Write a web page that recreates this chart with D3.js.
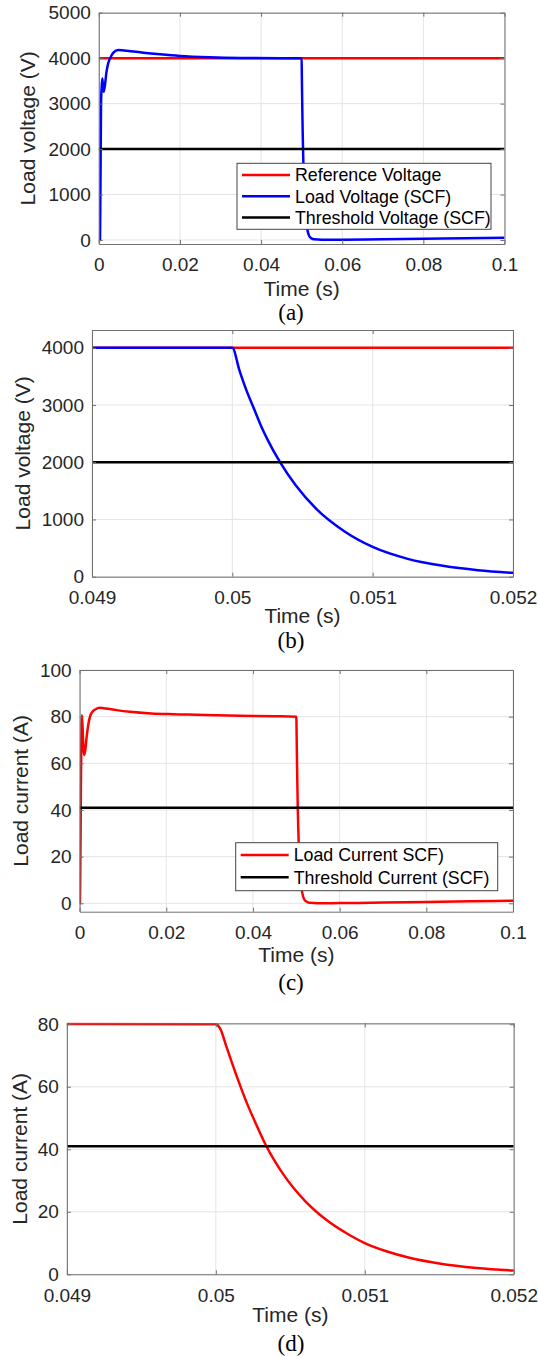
<!DOCTYPE html>
<html>
<head>
<meta charset="utf-8">
<script src="https://cdn.jsdelivr.net/npm/d3@7"></script>
<style>
  body { margin: 0; background: #fff; }
  svg { display: block; }
</style>
</head>
<body>
<svg id="fig" width="538" height="1356"></svg>
<script>
// Load voltage and load current during a short-circuit fault (SCF) at t = 0.05 s

// Load voltage (V) vs time (s)
const voltageTime = [0, 0.0003, 0.00055, 0.0007, 0.00086, 0.001, 0.0012, 0.0015, 0.0019, 0.0023,
  0.0028, 0.0036, 0.0048, 0.0069, 0.011, 0.0151, 0.02, 0.0274, 0.035, 0.045,
  0.05, 0.05005, 0.0501, 0.05015, 0.0502, 0.05025, 0.05034, 0.05045, 0.0506, 0.0508,
  0.051, 0.05125, 0.0515, 0.05175, 0.052, 0.0525, 0.053, 0.055, 0.06, 0.07,
  0.08, 0.09, 0.1];
const loadVoltage = [0, 0, 3000, 3350, 3550, 3420, 3260, 3400, 3700, 3880,
  4000, 4120, 4180, 4164, 4120, 4084, 4048, 4019, 4005, 4000,
  4000, 3610, 3260, 2960, 2660, 2400, 2000, 1600, 1180, 790,
  520, 312, 190, 113, 68, 30, 15, 5, 8, 18,
  28, 38, 48];

// Load current (A) vs time (s)
const currentTime = [0, 0.0001, 0.0003, 0.00055, 0.0008, 0.001, 0.0013, 0.00163, 0.002, 0.0024,
  0.003, 0.0036, 0.0047, 0.006, 0.0085, 0.0116, 0.0165, 0.0204, 0.025, 0.0291,
  0.037, 0.045, 0.05, 0.05003, 0.05007, 0.05014, 0.05021, 0.05028, 0.050337, 0.05045,
  0.0506, 0.05075, 0.0509, 0.051, 0.05115, 0.0513, 0.0515, 0.05175, 0.052, 0.0525,
  0.053, 0.055, 0.06, 0.07, 0.08, 0.09, 0.1];
const loadCurrent = [0, 0, 50, 80.6, 70, 63.6, 65.5, 71.4, 76.5, 80,
  82.2, 83.1, 83.8, 83.5, 82.8, 82.1, 81.4, 81.1, 80.9, 80.7,
  80.4, 80.2, 80, 78.5, 73, 63.4, 54.6, 47.0, 41.2, 32.2,
  23.4, 17.1, 12.5, 10, 7.3, 5.3, 3.45, 2.0, 1.2, 0.6,
  0.2, 0, 0.1, 0.3, 0.6, 0.9, 1.1];

const referenceVoltage = 4000;
const thresholdVoltage = 2000;
const thresholdCurrent = 41;

// Tick values
const fullTimeTicks = [0, 0.02, 0.04, 0.06, 0.08, 0.1];
const zoomTimeTicks = [0.049, 0.05, 0.051, 0.052];
const voltageTicksFull = [0, 1000, 2000, 3000, 4000, 5000];
const voltageTicksZoom = [0, 1000, 2000, 3000, 4000];
const currentTicksFull = [0, 20, 40, 60, 80, 100];
const currentTicksZoom = [0, 20, 40, 60, 80];

const RED = "#ff0000", BLUE = "#0000ff", BLACK = "#000000";
const SANS = "'Liberation Sans', Arial, Helvetica, sans-serif";
const SERIF = "'Liberation Serif', 'Times New Roman', serif";
const AXIS_COLOR = "#707070";
const TEXT_COLOR = "#262626";
const GRID_COLOR = "#e4e4e4";

const svg = d3.select("#fig");
const voltagePts = voltageTime.map((t, i) => [t, loadVoltage[i]]);
const currentPts = currentTime.map((t, i) => [t, loadCurrent[i]]);

let clipId = 0;

function drawPanel(cfg) {
  const g = svg.append("g");
  const x = d3.scaleLinear().domain(cfg.xDomain).range([cfg.left, cfg.right]);
  const y = d3.scaleLinear().domain(cfg.yDomain).range([cfg.bottom, cfg.top]);

  // grid
  g.append("g").selectAll("line").data(cfg.xTicks).join("line")
    .attr("x1", d => x(d)).attr("x2", d => x(d))
    .attr("y1", cfg.top).attr("y2", cfg.bottom)
    .attr("stroke", GRID_COLOR).attr("stroke-width", 1);
  g.append("g").selectAll("line").data(cfg.yTicks).join("line")
    .attr("x1", cfg.left).attr("x2", cfg.right)
    .attr("y1", d => y(d)).attr("y2", d => y(d))
    .attr("stroke", GRID_COLOR).attr("stroke-width", 1);

  // clip region
  const id = "clip" + (clipId++);
  g.append("clipPath").attr("id", id).append("rect")
    .attr("x", cfg.left).attr("y", cfg.top - 1)
    .attr("width", cfg.right - cfg.left).attr("height", cfg.bottom - cfg.top + 2);
  const plot = g.append("g").attr("clip-path", `url(#${id})`);

  const line = d3.line().x(d => x(d[0])).y(d => y(d[1])).curve(d3.curveMonotoneX);

  cfg.series.forEach(s => {
    if (s.level !== undefined) {
      plot.append("path")
        .attr("d", line([[cfg.xDomain[0], s.level], [cfg.xDomain[1], s.level]]))
        .attr("fill", "none").attr("stroke", s.color).attr("stroke-width", 2.5);
    } else {
      plot.append("path")
        .attr("d", line(s.points))
        .attr("fill", "none").attr("stroke", s.color).attr("stroke-width", 2.5)
        .attr("stroke-linejoin", "round");
    }
  });

  // axes with inward ticks
  const fmt = d => String(d);
  const styleAxis = a => {
    a.select(".domain").attr("stroke", AXIS_COLOR).attr("stroke-width", 1);
    a.selectAll(".tick line").attr("stroke", AXIS_COLOR).attr("stroke-width", 1);
    a.selectAll(".tick text").attr("fill", TEXT_COLOR)
      .attr("font-family", SANS).attr("font-size", 19);
  };
  g.append("g").attr("transform", `translate(0,${cfg.bottom})`)
    .call(d3.axisBottom(x).tickValues(cfg.xTicks).tickFormat(fmt)
      .tickSizeInner(-4).tickSizeOuter(0).tickPadding(14))
    .call(styleAxis);
  g.append("g").attr("transform", `translate(0,${cfg.top})`)
    .call(d3.axisTop(x).tickValues(cfg.xTicks).tickFormat("")
      .tickSizeInner(-4).tickSizeOuter(0))
    .call(styleAxis);
  g.append("g").attr("transform", `translate(${cfg.left},0)`)
    .call(d3.axisLeft(y).tickValues(cfg.yTicks).tickFormat(fmt)
      .tickSizeInner(-4).tickSizeOuter(0).tickPadding(8))
    .call(styleAxis);
  g.append("g").attr("transform", `translate(${cfg.right},0)`)
    .call(d3.axisRight(y).tickValues(cfg.yTicks).tickFormat("")
      .tickSizeInner(-4).tickSizeOuter(0))
    .call(styleAxis);

  // axis titles
  g.append("text")
    .attr("x", (cfg.left + cfg.right) / 2).attr("y", cfg.xTitleY)
    .attr("text-anchor", "middle").attr("fill", TEXT_COLOR)
    .attr("font-family", SANS).attr("font-size", 21)
    .text("Time (s)");
  g.append("text")
    .attr("transform", `translate(${cfg.yTitleX},${(cfg.top + cfg.bottom) / 2}) rotate(-90)`)
    .attr("text-anchor", "middle").attr("fill", TEXT_COLOR)
    .attr("font-family", SANS).attr("font-size", 21)
    .text(cfg.yTitle);

  // caption
  g.append("text")
    .attr("x", 291).attr("y", cfg.captionY)
    .attr("text-anchor", "middle").attr("fill", "#000")
    .attr("font-family", SERIF).attr("font-size", 23)
    .text(cfg.caption);

  // legend
  if (cfg.legend) {
    const L = cfg.legend;
    const lg = g.append("g");
    lg.append("rect")
      .attr("x", L.x).attr("y", L.y).attr("width", L.w).attr("height", L.h)
      .attr("fill", "#fff").attr("stroke", "#444").attr("stroke-width", 1);
    cfg.series.forEach((s, i) => {
      const cy = L.y + L.firstRow + i * L.rowGap;
      lg.append("line")
        .attr("x1", L.x + 5).attr("x2", L.x + 53)
        .attr("y1", cy).attr("y2", cy)
        .attr("stroke", s.color).attr("stroke-width", 2.5);
      lg.append("text")
        .attr("x", L.x + 58).attr("y", cy).attr("dy", "0.36em")
        .attr("fill", "#000").attr("font-family", SANS).attr("font-size", 17.8)
        .text(s.name);
    });
  }
}

// (a) full load voltage
drawPanel({
  left: 98.8, right: 504.5, top: 12.7, bottom: 244,
  xDomain: [0, 0.1], yDomain: [-88, 5000],
  xTicks: fullTimeTicks, yTicks: voltageTicksFull,
  yTitle: "Load voltage (V)", yTitleX: 35, xTitleY: 295.5, captionY: 319.5, caption: "(a)",
  series: [
    { name: "Reference Voltage", color: RED, level: referenceVoltage },
    { name: "Load Voltage (SCF)", color: BLUE, points: voltagePts },
    { name: "Threshold Voltage (SCF)", color: BLACK, level: thresholdVoltage }
  ],
  legend: { x: 237, y: 163.3, w: 254, h: 66, firstRow: 11.7, rowGap: 21.3 }
});

// (b) load voltage around the fault instant
drawPanel({
  left: 92, right: 513, top: 330, bottom: 576.7,
  xDomain: [0.049, 0.052], yDomain: [0, 4310],
  xTicks: zoomTimeTicks, yTicks: voltageTicksZoom,
  yTitle: "Load voltage (V)", yTitleX: 30, xTitleY: 622.5, captionY: 647.5, caption: "(b)",
  series: [
    { name: "Reference Voltage", color: RED, level: referenceVoltage },
    { name: "Load Voltage (SCF)", color: BLUE, points: voltagePts },
    { name: "Threshold Voltage (SCF)", color: BLACK, level: thresholdVoltage }
  ]
});

// (c) full load current
drawPanel({
  left: 79.6, right: 513, top: 670, bottom: 911.7,
  xDomain: [0, 0.1], yDomain: [-3.6, 100],
  xTicks: fullTimeTicks, yTicks: currentTicksFull,
  yTitle: "Load current (A)", yTitleX: 27.5, xTitleY: 961.5, captionY: 990, caption: "(c)",
  series: [
    { name: "Load Current SCF)", color: RED, points: currentPts },
    { name: "Threshold Current (SCF)", color: BLACK, level: thresholdCurrent }
  ],
  legend: { x: 235.7, y: 842.7, w: 262, h: 48, firstRow: 12.3, rowGap: 22.3 }
});

// (d) load current around the fault instant
drawPanel({
  left: 66.9, right: 513.7, top: 1023.3, bottom: 1274.3,
  xDomain: [0.049, 0.052], yDomain: [0, 80.3],
  xTicks: zoomTimeTicks, yTicks: currentTicksZoom,
  yTitle: "Load current (A)", yTitleX: 26.5, xTitleY: 1321.5, captionY: 1350.5, caption: "(d)",
  series: [
    { name: "Load Current SCF)", color: RED, points: currentPts },
    { name: "Threshold Current (SCF)", color: BLACK, level: thresholdCurrent }
  ]
});
</script>
</body>
</html>
